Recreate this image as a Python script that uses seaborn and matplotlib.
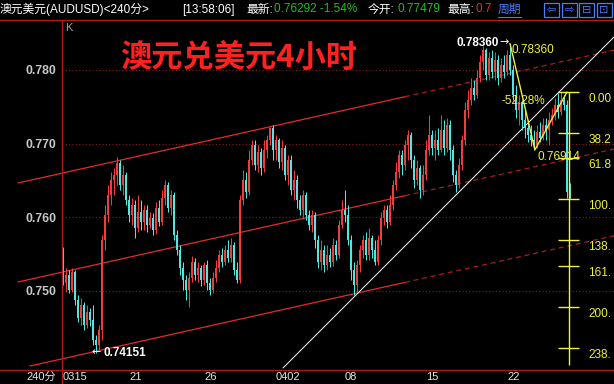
import matplotlib
matplotlib.use("Agg")
import matplotlib.pyplot as plt
from matplotlib.lines import Line2D
from matplotlib.patches import Rectangle
import numpy as np
import pandas as pd
import seaborn as sns

# ---------------- data (AUDUSD 240-minute bars) ----------------
opens = [0.7555, 0.7510, 0.7521, 0.7501, 0.7525, 0.7487, 0.7463, 0.7480, 0.7453, 0.7471,
         0.7460, 0.7433, 0.7426, 0.7446, 0.7569, 0.7603, 0.7630, 0.7650, 0.7657, 0.7673,
         0.7644, 0.7657, 0.7623, 0.7603, 0.7616, 0.7585, 0.7607, 0.7593, 0.7610, 0.7589,
         0.7599, 0.7582, 0.7612, 0.7593, 0.7626, 0.7644, 0.7612, 0.7630, 0.7576, 0.7555,
         0.7531, 0.7514, 0.7501, 0.7517, 0.7539, 0.7521, 0.7531, 0.7514, 0.7535, 0.7510,
         0.7501, 0.7517, 0.7531, 0.7548, 0.7539, 0.7555, 0.7544, 0.7562, 0.7528, 0.7514,
         0.7623, 0.7650, 0.7634, 0.7678, 0.7698, 0.7671, 0.7688, 0.7667, 0.7691, 0.7705,
         0.7721, 0.7691, 0.7705, 0.7675, 0.7694, 0.7657, 0.7678, 0.7637, 0.7650, 0.7623,
         0.7610, 0.7630, 0.7603, 0.7589, 0.7603, 0.7569, 0.7539, 0.7555, 0.7535, 0.7548,
         0.7539, 0.7562, 0.7548, 0.7589, 0.7610, 0.7603, 0.7569, 0.7528, 0.7507, 0.7535,
         0.7555, 0.7569, 0.7548, 0.7571, 0.7555, 0.7539, 0.7569, 0.7599, 0.7610, 0.7593,
         0.7616, 0.7644, 0.7661, 0.7684, 0.7671, 0.7698, 0.7712, 0.7678, 0.7650, 0.7667,
         0.7637, 0.7657, 0.7691, 0.7712, 0.7694, 0.7705, 0.7691, 0.7718, 0.7694, 0.7725,
         0.7691, 0.7657, 0.7644, 0.7671, 0.7705, 0.7746, 0.7759, 0.7776, 0.7766, 0.7789,
         0.7811, 0.7827, 0.7793, 0.7816, 0.7797, 0.7814, 0.7789, 0.7807, 0.7797, 0.7820,
         0.7800, 0.7766, 0.7746, 0.7756, 0.7732, 0.7721, 0.7712, 0.7705, 0.7698, 0.7716,
         0.7707, 0.7725, 0.7718, 0.7732, 0.7739, 0.7752, 0.7743, 0.7759, 0.7752, 0.7634]
highs = [0.7559, 0.7531, 0.7528, 0.7531, 0.7528, 0.7494, 0.7490, 0.7484, 0.7480, 0.7476,
         0.7480, 0.7439, 0.7453, 0.7576, 0.7616, 0.7644, 0.7661, 0.7667, 0.7682, 0.7678,
         0.7671, 0.7661, 0.7630, 0.7626, 0.7623, 0.7630, 0.7623, 0.7616, 0.7616, 0.7607,
         0.7605, 0.7620, 0.7623, 0.7637, 0.7650, 0.7648, 0.7637, 0.7634, 0.7582, 0.7562,
         0.7539, 0.7521, 0.7525, 0.7547, 0.7544, 0.7539, 0.7535, 0.7539, 0.7542, 0.7517,
         0.7525, 0.7542, 0.7555, 0.7558, 0.7562, 0.7569, 0.7571, 0.7566, 0.7539, 0.7630,
         0.7664, 0.7661, 0.7691, 0.7705, 0.7705, 0.7698, 0.7694, 0.7705, 0.7712, 0.7722,
         0.7725, 0.7712, 0.7707, 0.7705, 0.7698, 0.7684, 0.7684, 0.7664, 0.7657, 0.7630,
         0.7637, 0.7634, 0.7610, 0.7610, 0.7607, 0.7576, 0.7569, 0.7562, 0.7562, 0.7558,
         0.7571, 0.7569, 0.7596, 0.7623, 0.7637, 0.7616, 0.7576, 0.7539, 0.7542, 0.7562,
         0.7576, 0.7580, 0.7585, 0.7576, 0.7569, 0.7576, 0.7607, 0.7616, 0.7616, 0.7630,
         0.7650, 0.7675, 0.7691, 0.7691, 0.7705, 0.7718, 0.7716, 0.7684, 0.7678, 0.7671,
         0.7671, 0.7705, 0.7739, 0.7718, 0.7718, 0.7721, 0.7739, 0.7732, 0.7735, 0.7732,
         0.7698, 0.7664, 0.7680, 0.7712, 0.7756, 0.7773, 0.7789, 0.7786, 0.7800, 0.7820,
         0.7833, 0.7830, 0.7824, 0.7827, 0.7824, 0.7820, 0.7816, 0.7820, 0.7827, 0.7836,
         0.7807, 0.7780, 0.7766, 0.7759, 0.7746, 0.7732, 0.7725, 0.7718, 0.7725, 0.7729,
         0.7735, 0.7735, 0.7743, 0.7748, 0.7762, 0.7769, 0.7770, 0.7766, 0.7759, 0.7646]
lows = [0.7507, 0.7498, 0.7497, 0.7498, 0.7480, 0.7457, 0.7453, 0.7446, 0.7449, 0.7452,
        0.7426, 0.7415, 0.7419, 0.7433, 0.7555, 0.7593, 0.7616, 0.7630, 0.7644, 0.7637,
        0.7630, 0.7616, 0.7593, 0.7589, 0.7571, 0.7580, 0.7582, 0.7582, 0.7580, 0.7585,
        0.7576, 0.7577, 0.7588, 0.7589, 0.7616, 0.7607, 0.7603, 0.7569, 0.7548, 0.7521,
        0.7501, 0.7487, 0.7478, 0.7512, 0.7514, 0.7512, 0.7506, 0.7507, 0.7501, 0.7494,
        0.7497, 0.7512, 0.7525, 0.7532, 0.7535, 0.7539, 0.7539, 0.7521, 0.7510, 0.7510,
        0.7616, 0.7626, 0.7630, 0.7671, 0.7664, 0.7661, 0.7657, 0.7661, 0.7680, 0.7698,
        0.7678, 0.7678, 0.7667, 0.7664, 0.7650, 0.7644, 0.7630, 0.7623, 0.7612, 0.7603,
        0.7599, 0.7596, 0.7582, 0.7580, 0.7558, 0.7531, 0.7528, 0.7525, 0.7528, 0.7532,
        0.7533, 0.7542, 0.7544, 0.7585, 0.7593, 0.7562, 0.7514, 0.7494, 0.7498, 0.7525,
        0.7544, 0.7542, 0.7542, 0.7544, 0.7535, 0.7535, 0.7562, 0.7589, 0.7585, 0.7589,
        0.7610, 0.7637, 0.7653, 0.7657, 0.7664, 0.7678, 0.7667, 0.7639, 0.7644, 0.7626,
        0.7630, 0.7650, 0.7684, 0.7684, 0.7678, 0.7684, 0.7688, 0.7684, 0.7688, 0.7678,
        0.7648, 0.7634, 0.7639, 0.7664, 0.7698, 0.7735, 0.7752, 0.7759, 0.7762, 0.7784,
        0.7800, 0.7786, 0.7786, 0.7789, 0.7786, 0.7780, 0.7784, 0.7789, 0.7793, 0.7793,
        0.7759, 0.7735, 0.7725, 0.7718, 0.7707, 0.7702, 0.7697, 0.7691, 0.7694, 0.7702,
        0.7705, 0.7705, 0.7698, 0.7725, 0.7732, 0.7735, 0.7739, 0.7746, 0.7626, 0.7626]
closes = [0.7510, 0.7521, 0.7501, 0.7525, 0.7487, 0.7463, 0.7480, 0.7453, 0.7471, 0.7460,
          0.7433, 0.7426, 0.7446, 0.7569, 0.7603, 0.7630, 0.7650, 0.7657, 0.7673, 0.7644,
          0.7657, 0.7623, 0.7603, 0.7616, 0.7585, 0.7607, 0.7593, 0.7610, 0.7589, 0.7599,
          0.7582, 0.7612, 0.7593, 0.7626, 0.7644, 0.7612, 0.7630, 0.7576, 0.7555, 0.7531,
          0.7514, 0.7501, 0.7517, 0.7539, 0.7521, 0.7531, 0.7514, 0.7535, 0.7510, 0.7501,
          0.7517, 0.7531, 0.7548, 0.7539, 0.7555, 0.7544, 0.7562, 0.7528, 0.7514, 0.7623,
          0.7650, 0.7634, 0.7678, 0.7698, 0.7671, 0.7688, 0.7667, 0.7691, 0.7705, 0.7721,
          0.7691, 0.7705, 0.7675, 0.7694, 0.7657, 0.7678, 0.7637, 0.7650, 0.7623, 0.7610,
          0.7630, 0.7603, 0.7589, 0.7603, 0.7569, 0.7539, 0.7555, 0.7535, 0.7548, 0.7539,
          0.7562, 0.7548, 0.7589, 0.7610, 0.7603, 0.7569, 0.7528, 0.7507, 0.7535, 0.7555,
          0.7569, 0.7548, 0.7571, 0.7555, 0.7539, 0.7569, 0.7599, 0.7610, 0.7593, 0.7616,
          0.7644, 0.7661, 0.7684, 0.7671, 0.7698, 0.7712, 0.7678, 0.7650, 0.7667, 0.7637,
          0.7657, 0.7691, 0.7712, 0.7694, 0.7705, 0.7691, 0.7718, 0.7694, 0.7725, 0.7691,
          0.7657, 0.7644, 0.7671, 0.7705, 0.7746, 0.7759, 0.7776, 0.7766, 0.7789, 0.7811,
          0.7827, 0.7793, 0.7816, 0.7797, 0.7814, 0.7789, 0.7807, 0.7797, 0.7820, 0.7800,
          0.7766, 0.7746, 0.7756, 0.7732, 0.7721, 0.7712, 0.7705, 0.7698, 0.7716, 0.7707,
          0.7725, 0.7718, 0.7732, 0.7739, 0.7752, 0.7743, 0.7759, 0.7752, 0.7634, 0.7629]

date_ticks = [0, 22, 47, 71, 94, 121, 148]
date_labels = ["0315", "21", "26", "0402", "08", "15", "22"]
price_ticks = [0.750, 0.760, 0.770, 0.780]

swing_bars = [149, 157.3, 168]
swing_prices = [0.78360, 0.76914, 0.77700]

fib_high = 0.7770
fib_low = 0.7624
fib_ratios = [0.0, 0.382, 0.618, 1.0, 1.382, 1.618, 2.0, 2.382]
fib_labels = ["0.00", "38.2", "61.8", "100.", "138.", "161.", "200.", "238."]

# ---------------- layout helpers ----------------
W, H = 614, 384
PX_LEFT, PX_RIGHT, PX_TOP, PX_BOTTOM = 62, 614, 19, 370
BAR0_PX, BAR_PX = 63.0, 3.0          # pixel of bar 0, pixels per bar
REF_PRICE, REF_Y, PRICE_PX = 0.780, 70.0, 7350.0


def px2x(px):
    return (px - BAR0_PX) / BAR_PX


def py2p(py):
    return REF_PRICE - (py - REF_Y) / PRICE_PX


def fpos(px, py):
    return px / W, 1 - py / H


RED = "#f03c3c"
CYAN = "#50e6e6"
YEL = "#f0f040"
GRID = "#8a1a1a"
FRAME = "#b41818"

sns.set_theme(style="dark", rc={"axes.facecolor": "black", "figure.facecolor": "black"})
plt.rcParams["font.family"] = ["Liberation Sans", "Noto Sans CJK SC", "DejaVu Sans"]

df = pd.DataFrame({"open": opens, "high": highs, "low": lows, "close": closes})
df["bar"] = np.arange(len(df))

fig = plt.figure(figsize=(W / 100, H / 100), dpi=100, facecolor="black")
ax = fig.add_axes([PX_LEFT / W, 1 - PX_BOTTOM / H,
                   (PX_RIGHT - PX_LEFT) / W, (PX_BOTTOM - PX_TOP) / H])
ax.set_facecolor("black")
ax.set_xlim(px2x(PX_LEFT), px2x(PX_RIGHT))
ax.set_ylim(py2p(PX_BOTTOM), py2p(PX_TOP))
for s in ax.spines.values():
    s.set_visible(False)
ax.grid(False)

# dotted price grid
ax.hlines(price_ticks, px2x(PX_LEFT), px2x(PX_RIGHT), colors=GRID,
          linestyles=(0, (1, 2)), lw=0.8, zorder=1)

# channel lines (solid part, then dashed extension)
slope = 0.223 * BAR_PX / PRICE_PX
channels = [(px2x(18), py2p(183)), (px2x(18), py2p(282)), (px2x(30), py2p(366))]
split = px2x(405)
xend = px2x(PX_RIGHT)
for x0, p0 in channels:
    ax.plot([x0, split], [p0, p0 + slope * (split - x0)], color="#e42a2a",
            lw=0.9, clip_on=False, zorder=2)
    ax.plot([split, xend], [p0 + slope * (split - x0), p0 + slope * (xend - x0)],
            color="#a81c1c", lw=0.9, ls=(0, (4, 3)), zorder=2)

# white trend line
ax.plot([px2x(283), px2x(PX_RIGHT)], [py2p(368), py2p(37)], color="white", lw=0.7, zorder=2)

# candles
up = df["close"] > df["open"]
dn = df["close"] < df["open"]
colors = np.where(up, RED, np.where(dn, CYAN, "white"))
ax.vlines(df["bar"], df["low"], df["high"], colors=colors, lw=0.75, zorder=3)
bottoms = np.minimum(df["open"], df["close"])
heights = np.maximum((df["close"] - df["open"]).abs(), 0.00003)
ax.bar(df["bar"], heights, bottom=bottoms, width=0.62, color=colors, linewidth=0, zorder=3)

# swing zigzag
zz = pd.DataFrame({"bar": swing_bars, "price": swing_prices})
sns.lineplot(data=zz, x="bar", y="price", color=YEL, lw=1.0, sort=False, ax=ax,
             legend=False, zorder=4)

# fibonacci extension ruler
fib_rng = fib_high - fib_low
levels = [fib_high - r * fib_rng for r in fib_ratios]
fx = px2x(568.5)
ax.vlines(fx, fib_high - 2.54 * fib_rng, fib_high, colors=YEL, lw=1.0, zorder=4)
ax.hlines(levels, fx - 3.4, fx + 3.4, colors=YEL, lw=1.0, zorder=4)
for lab, lv in zip(fib_labels, levels):
    ax.text(px2x(588.5), lv - 7 / PRICE_PX, lab, color=YEL, fontsize=8.5,
            ha="left", va="center", clip_on=False, zorder=5)

ax.set_xlabel("")
ax.set_ylabel("")
ax.set_yticks(price_ticks)
ax.set_yticklabels([f"{v:.3f}" for v in price_ticks], fontweight="bold", color="#c8c8c8",
                   fontsize=8.8)
ax.set_xticks(date_ticks)
ax.set_xticklabels(date_labels, color="#e6e6e6", fontsize=8, ha="left")
ax.tick_params(axis="y", length=0, pad=3.8)
ax.tick_params(axis="x", length=0, pad=1.2)

# frame lines
fig.add_artist(Line2D([0, 1], [1 - 19.5 / H] * 2, color=FRAME, lw=1.0, transform=fig.transFigure))
fig.add_artist(Line2D([0, 1], [1 - 369.5 / H] * 2, color=FRAME, lw=1.0, transform=fig.transFigure))
fig.add_artist(Line2D([61.5 / W] * 2, [0, 1 - 19.5 / H], color=FRAME, lw=1.0, transform=fig.transFigure))

# annotations
fig.text(*fpos(120, 58), "澳元兑美元4小时", color="#ff2020", fontsize=22.5,
         family=["Noto Sans CJK SC"], fontweight="bold", va="center", ha="left")
fig.text(*fpos(65, 28), "K", color="#a0a0a0", fontsize=8, va="center", ha="left")
fig.text(*fpos(26, 377), "240分", color="#e6e6e6", fontsize=8, va="center", ha="left",
         family=["Liberation Sans", "Noto Sans CJK SC"])
fig.text(*fpos(499, 43), "0.78360", color="white", fontsize=8.5, fontweight="bold",
         va="center", ha="right")
fig.text(*fpos(499, 42), "→", color="white", fontsize=8, va="center", ha="left",
         family=["DejaVu Sans"])
fig.text(*fpos(92, 352), "←", color="white", fontsize=8, va="center", ha="left",
         family=["DejaVu Sans"])
fig.text(*fpos(103, 353), "0.74151", color="white", fontsize=8.5, fontweight="bold",
         va="center", ha="left")
fig.text(*fpos(512, 50), "0.78360", color=YEL, fontsize=8.5, va="center", ha="left")
fig.text(*fpos(501, 101), "-52.28%", color=YEL, fontsize=8.5, va="center", ha="left")
fig.text(*fpos(537, 157), "0.76914", color=YEL, fontsize=8.5, va="center", ha="left")

# header bar
hdr = [(0, "澳元美元(AUDUSD)<240分>", "white"),
       (182, "[13:58:06]", "white"),
       (246, "最新:", "white"),
       (274, "0.76292 -1.54%", "#20c020"),
       (368, "今开:", "white"),
       (397, "0.77479", "#20c020"),
       (447, "最高:", "white"),
       (476, "0.7", "#e03030"),
       (498, "周期", "#4a7cff")]
for px, txt, col in hdr:
    fig.text(*fpos(px, 9.5), txt, color=col, fontsize=8.5, va="center", ha="left",
             family=["Liberation Sans", "Noto Sans CJK SC"])
fig.add_artist(Line2D([498 / W, 521 / W], [1 - 17 / H] * 2, color="#4a7cff", lw=0.8,
                      transform=fig.transFigure))
icons = ["⇦", "⇨", "⊟", "⊡"]
for k, ic in enumerate(icons):
    x0 = 544 + k * 17.5
    fig.add_artist(Rectangle(fpos(x0, 17), 15 / W, 14 / H, fill=False, ec="#4a7cff",
                             lw=0.9, transform=fig.transFigure))
    fig.text(*fpos(x0 + 7.5, 10), ic, color="#4a7cff", fontsize=8, ha="center",
             va="center", family=["DejaVu Sans"])

fig.savefig("out.png", dpi=100, facecolor="black")
